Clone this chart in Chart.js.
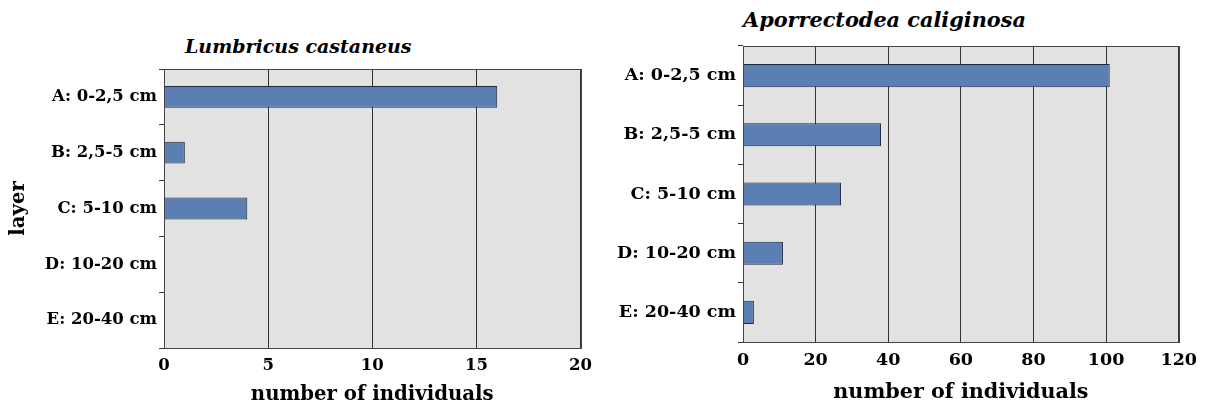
<!DOCTYPE html>
<html>
<head>
<meta charset="utf-8">
<script src="https://cdn.jsdelivr.net/npm/chart.js@4.4.1/dist/chart.umd.min.js"></script>
<style>
    body { margin: 0; background: #fff; width: 1205px; height: 408px; overflow: hidden; position: relative; }
    .caixa { position: absolute; top: 0; height: 408px; }
    .titulo { position: absolute; font-family: 'DejaVu Serif', serif; font-style: italic; font-weight: bold; color: #000; white-space: nowrap; line-height: 24px; }
</style>
</head>
<body>
<div class="titulo" style="left:185px; top:34px; font-size:19px;">Lumbricus castaneus</div>
<div class="titulo" style="left:743px; top:8px; font-size:20.8px;">Aporrectodea caliginosa</div>
<div class="caixa" style="left:0; width:600px;"><canvas id="grafico-lumbricus"></canvas></div>
<div class="caixa" style="left:600px; width:605px;"><canvas id="grafico-aporrectodea"></canvas></div>

<script>
// dados
const camadas = ['A: 0-2,5 cm', 'B: 2,5-5 cm', 'C: 5-10 cm', 'D: 10-20 cm', 'E: 20-40 cm'];
const lumbricus = [16, 1, 4, 0, 0];
const aporrectodea = [101, 38, 27, 11, 3];
const eixoLumbricus = { max: 20, passo: 5 };
const eixoAporrectodea = { max: 120, passo: 20 };

const FONTE = "'DejaVu Serif', serif";
const COR_BARRA = '#5b7fb3';
const COR_BORDA = '#1d2a3f';

// fundo cinza e moldura da área do gráfico
const fundoPlot = {
    id: 'fundoPlot',
    beforeDraw(chart) {
        const { ctx, chartArea: a } = chart;
        ctx.save();
        ctx.fillStyle = '#e2e2e2';
        ctx.fillRect(a.left, a.top, a.width, a.height);
        ctx.restore();
    },
    afterDatasetsDraw(chart) {
        const { ctx, chartArea: a } = chart;
        ctx.save();
        ctx.strokeStyle = '#444';
        ctx.lineWidth = 1;
        ctx.strokeRect(Math.round(a.left) + 0.5, Math.round(a.top) + 0.5, Math.round(a.width), Math.round(a.height));
        ctx.restore();
    }
};

function criarGrafico(canvas, valores, eixo, cfg) {
    return new Chart(canvas, {
        type: 'bar',
        data: {
            labels: camadas,
            datasets: [{
                data: valores,
                backgroundColor: COR_BARRA,
                borderColor: COR_BORDA,
                borderWidth: 1,
                borderSkipped: 'start',
                barPercentage: 0.39,
                categoryPercentage: 1
            }]
        },
        options: {
            indexAxis: 'y',
            responsive: true,
            maintainAspectRatio: false,
            animation: false,
            layout: { padding: cfg.padding },
            plugins: { legend: { display: false }, tooltip: { enabled: false }, title: { display: false } },
            scales: {
                x: {
                    min: 0,
                    max: eixo.max,
                    ticks: { stepSize: eixo.passo, color: '#000', padding: 8, font: { family: FONTE, size: cfg.fonteTicks, weight: 'bold' } },
                    grid: { color: '#333', drawTicks: false },
                    border: { color: '#222' },
                    title: {
                        display: true,
                        text: 'number of individuals',
                        color: '#000',
                        font: { family: FONTE, size: cfg.fonteTitulo, weight: 'bold' },
                        padding: { top: 0, bottom: cfg.tituloX }
                    },
                    afterFit: (s) => { s.height = cfg.alturaX; }
                },
                y: {
                    offset: true,
                    grid: { offset: true, drawOnChartArea: false, drawTicks: true, tickLength: 5, color: '#333' },
                    border: { color: '#222' },
                    ticks: { color: '#000', padding: 2, font: { family: FONTE, size: cfg.fonteTicks, weight: 'bold' } },
                    title: {
                        display: cfg.tituloY,
                        text: 'layer',
                        color: '#000',
                        font: { family: FONTE, size: cfg.fonteTitulo, weight: 'bold' },
                        padding: { top: 7, bottom: 0 }
                    },
                    afterFit: (s) => { s.width = cfg.larguraY; }
                }
            }
        },
        plugins: [fundoPlot]
    });
}

criarGrafico(document.getElementById('grafico-lumbricus'), lumbricus, eixoLumbricus, {
    padding: { top: 69, right: 16, bottom: 0, left: 0 },
    larguraY: 164, alturaX: 60, tituloX: 1, tituloY: true,
    fonteTicks: 16.5, fonteTitulo: 19.7
});
criarGrafico(document.getElementById('grafico-aporrectodea'), aporrectodea, eixoAporrectodea, {
    padding: { top: 46, right: 24, bottom: 0, left: 0 },
    larguraY: 143, alturaX: 66, tituloX: 3, tituloY: false,
    fonteTicks: 17.5, fonteTitulo: 20.7
});
</script>
</body>
</html>
